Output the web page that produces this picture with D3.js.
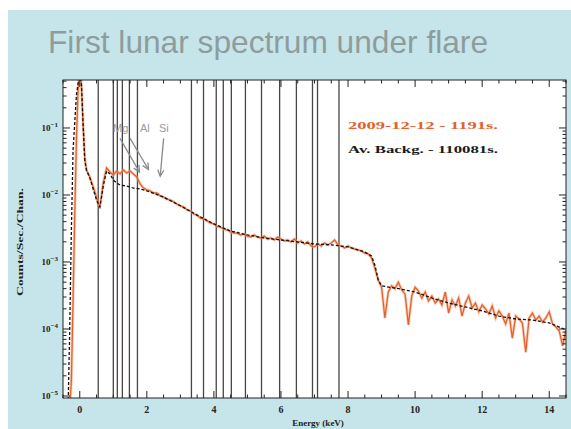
<!DOCTYPE html>
<html>
<head>
<meta charset="utf-8">
<script src="https://cdn.jsdelivr.net/npm/d3@7"></script>
<style>
  html, body { margin: 0; padding: 0; background: #fff; }
  svg { display: block; }
</style>
</head>
<body>
<div id="chart"></div>
<script>
// ------ DATA ------

// flare spectrum (orange), energy in keV / counts per sec per channel
const flareEnergy = [-0.30,-0.25,-0.20,-0.15,-0.10,-0.05,0.00,0.05,0.10,0.15,0.20,0.30,0.40,0.50,0.55,0.60,0.65,0.70,0.80,0.90,
  1.0,1.1,1.2,1.3,1.4,1.5,1.6,1.7,1.8,1.9,2.0,2.1,2.2,2.3,2.4,2.5,2.6,2.7,2.8,2.9,
  3.0,3.1,3.2,3.3,3.4,3.5,3.6,3.7,3.8,3.9,4.0,4.1,4.2,4.3,4.4,4.5,4.6,4.7,4.8,4.9,
  5.0,5.1,5.2,5.3,5.4,5.5,5.6,5.7,5.8,5.9,6.0,6.1,6.2,6.3,6.4,6.5,6.6,6.7,6.8,6.9,
  7.0,7.1,7.2,7.3,7.4,7.5,7.6,7.7,7.8,7.9,8.0,8.1,8.2,8.3,8.4,8.5,8.6,8.7,8.8,8.9,
  9.0,9.1,9.2,9.3,9.4,9.5,9.6,9.7,9.8,9.9,10.0,10.1,10.2,10.3,10.4,10.5,10.6,10.7,10.8,10.9,
  11.0,11.1,11.2,11.3,11.4,11.5,11.6,11.7,11.8,11.9,12.0,12.1,12.2,12.3,12.4,12.5,12.6,12.7,12.8,12.9,
  13.0,13.1,13.2,13.3,13.4,13.5,13.6,13.7,13.8,13.9,14.0,14.1,14.2,14.3,14.4,14.5];
const flareCounts = [6.2e-6,1.73e-5,2.71e-4,5.0e-3,6.6e-2,0.37,0.73,0.44,0.111,3.56e-2,2.36e-2,1.86e-2,1.32e-2,9.3e-3,7.3e-3,6.9e-3,9.7e-3,1.51e-2,2.53e-2,2.20e-2,
  1.99e-2,2.28e-2,2.06e-2,2.36e-2,2.13e-2,2.28e-2,2.06e-2,1.86e-2,1.46e-2,1.27e-2,1.19e-2,1.15e-2,1.07e-2,1.07e-2,9.7e-3,9.3e-3,8.7e-3,8.4e-3,7.9e-3,7.3e-3,
  6.9e-3,6.6e-3,6.0e-3,5.8e-3,5.2e-3,5.0e-3,4.5e-3,4.4e-3,4.1e-3,3.8e-3,3.7e-3,3.4e-3,3.3e-3,3.1e-3,3.0e-3,2.8e-3,2.7e-3,2.7e-3,2.53e-3,2.62e-3,
  2.44e-3,2.36e-3,2.53e-3,2.36e-3,2.28e-3,2.44e-3,2.20e-3,2.28e-3,2.13e-3,2.36e-3,2.20e-3,2.06e-3,2.13e-3,1.99e-3,2.20e-3,1.92e-3,2.06e-3,1.86e-3,1.99e-3,1.73e-3,
  1.68e-3,1.86e-3,1.73e-3,1.92e-3,1.80e-3,1.92e-3,2.13e-3,1.80e-3,1.73e-3,1.62e-3,1.73e-3,1.62e-3,1.56e-3,1.51e-3,1.46e-3,1.36e-3,1.32e-3,1.15e-3,8.1e-4,5.4e-4,
  4.2e-4,1.46e-4,3.56e-4,4.4e-4,4.0e-4,5.0e-4,3.82e-4,3.33e-4,1.15e-4,3.1e-4,4.2e-4,3.69e-4,2.9e-4,3.56e-4,2.62e-4,3.1e-4,2.44e-4,2.8e-4,2.28e-4,3.56e-4,
  1.73e-4,2.71e-4,2.20e-4,2.9e-4,1.56e-4,2.44e-4,3.1e-4,2.06e-4,2.44e-4,1.80e-4,2.28e-4,1.99e-4,1.68e-4,2.20e-4,1.46e-4,1.86e-4,1.56e-4,1.19e-4,1.73e-4,7.3e-5,
  1.56e-4,1.41e-4,1.23e-4,4.5e-5,1.46e-4,1.73e-4,1.36e-4,1.56e-4,1.27e-4,1.46e-4,1.80e-4,1.19e-4,1.07e-4,9.3e-5,5.6e-5,9.7e-5];

// average background (black dashed)
const bkgEnergy = [-0.35,-0.30,-0.25,-0.20,-0.10,0.00,0.05,0.10,0.15,0.20,0.30,0.40,0.50,0.60,0.70,0.80,0.90,
  1.0,1.1,1.2,1.4,1.6,1.8,2.0,2.5,3.0,3.5,4.0,4.5,5.0,5.5,6.0,6.5,7.0,7.5,8.0,8.5,8.7,8.8,8.9,
  9.0,9.5,10.0,10.5,11.0,11.5,12.0,12.5,13.0,13.5,14.0,14.5];
const bkgCounts = [6.2e-6,9.7e-5,3.0e-3,4.7e-2,0.31,0.69,0.44,0.111,3.3e-2,2.36e-2,1.80e-2,1.23e-2,8.4e-3,6.6e-3,1.36e-2,2.28e-2,2.06e-2,
  1.68e-2,1.51e-2,1.41e-2,1.36e-2,1.27e-2,1.23e-2,1.15e-2,9.3e-3,6.9e-3,5.0e-3,3.7e-3,2.9e-3,2.53e-3,2.28e-3,2.13e-3,1.99e-3,1.86e-3,1.80e-3,1.68e-3,1.41e-3,1.23e-3,9.0e-4,5.4e-4,
  4.4e-4,4.0e-4,3.56e-4,2.9e-4,2.44e-4,2.13e-4,1.86e-4,1.56e-4,1.41e-4,1.36e-4,1.23e-4,9.7e-5];

// fluorescence line markers (keV)
const lineEnergies = [0.55,1.00,1.12,1.27,1.48,1.72,3.33,3.69,4.07,4.28,4.52,4.94,5.42,5.96,6.46,6.94,7.09,7.73];

// tick labels
const xTickValues = [0,2,4,6,8,10,12,14];
const yTickExponents = [-1,-2,-3,-4,-5];

// annotations
const elementLabels = ['Mg','Al','Si'];
const legendLabels = ['2009-12-12 - 1191s.','Av. Backg. - 110081s.'];

// ------ LAYOUT ------

const W = 571, H = 429;
const plot = {left: 63, right: 566, top: 80, bottom: 398};

const svg = d3.select('#chart').append('svg')
  .attr('width', W).attr('height', H);

// slide background
svg.append('rect').attr('x', 8).attr('y', 10).attr('width', W - 8).attr('height', H - 10)
  .attr('fill', '#c5e5ea');

svg.append('text')
  .attr('x', 48).attr('y', 53)
  .attr('font-family', 'Liberation Sans, Arial, sans-serif')
  .attr('font-size', 32)
  .attr('fill', '#8f9c9d')
  .attr('textLength', 440).attr('lengthAdjust', 'spacingAndGlyphs')
  .text('First lunar spectrum under flare');

// plot area
svg.append('rect')
  .attr('x', plot.left).attr('y', plot.top)
  .attr('width', plot.right - plot.left).attr('height', plot.bottom - plot.top)
  .attr('fill', '#fff');

const x = d3.scaleLinear().domain([-0.5, 14.5]).range([plot.left, plot.right]);
const y = d3.scaleLog().domain([Math.pow(10, -5.03), Math.pow(10, -0.284)]).range([plot.bottom, plot.top]);

svg.append('clipPath').attr('id', 'clip')
  .append('rect')
  .attr('x', plot.left).attr('y', plot.top)
  .attr('width', plot.right - plot.left).attr('height', plot.bottom - plot.top);

const g = svg.append('g').attr('clip-path', 'url(#clip)');

// element lines
g.selectAll('.eline')
  .data(lineEnergies)
  .join('line')
    .attr('x1', d => x(d)).attr('x2', d => x(d))
    .attr('y1', plot.top).attr('y2', plot.bottom)
    .attr('stroke', '#4a4444')
    .attr('stroke-width', 1.3);

// spectra
const flare = flareEnergy.map((e, i) => [e, flareCounts[i]]);
const bkg = bkgEnergy.map((e, i) => [e, bkgCounts[i]]);
const line = d3.line().x(d => x(d[0])).y(d => y(d[1]));

g.append('path').datum(flare)
  .attr('fill', 'none')
  .attr('stroke', '#f0a27c').attr('stroke-width', 3).attr('opacity', 0.5)
  .attr('d', line);
g.append('path').datum(flare)
  .attr('fill', 'none')
  .attr('stroke', '#e4622a').attr('stroke-width', 1.3)
  .attr('d', line);
g.append('path').datum(bkg)
  .attr('fill', 'none')
  .attr('stroke', '#111').attr('stroke-width', 1.3)
  .attr('stroke-dasharray', '3,2')
  .attr('d', line);

// ------ AXES (IDL-style, ticks inward on all sides) ------

const axes = svg.append('g').attr('stroke', '#222').attr('stroke-width', 1);

const xMinor = d3.range(-0.5, 14.51, 0.5);
xMinor.forEach(e => {
  const len = (e % 2 === 0) ? 7 : 3.5;
  axes.append('line').attr('x1', x(e)).attr('x2', x(e)).attr('y1', plot.bottom).attr('y2', plot.bottom - len);
  axes.append('line').attr('x1', x(e)).attr('x2', x(e)).attr('y1', plot.top).attr('y2', plot.top + len);
});

const yTicks = [];
for (let k = -6; k <= 0; k++) {
  for (let m = 1; m <= 9; m++) {
    const v = m * Math.pow(10, k);
    if (v >= y.domain()[0] && v <= y.domain()[1]) yTicks.push({v: v, major: m === 1});
  }
}
yTicks.forEach(t => {
  const len = t.major ? 7 : 3.5;
  axes.append('line').attr('x1', plot.left).attr('x2', plot.left + len).attr('y1', y(t.v)).attr('y2', y(t.v));
  axes.append('line').attr('x1', plot.right).attr('x2', plot.right - len).attr('y1', y(t.v)).attr('y2', y(t.v));
});

svg.append('rect')
  .attr('x', plot.left).attr('y', plot.top)
  .attr('width', plot.right - plot.left).attr('height', plot.bottom - plot.top)
  .attr('fill', 'none').attr('stroke', '#222').attr('stroke-width', 1);

const labelFont = 'Liberation Serif, DejaVu Serif, serif';

svg.selectAll('.xlab')
  .data(xTickValues)
  .join('text')
    .attr('x', d => x(d)).attr('y', 413)
    .attr('text-anchor', 'middle')
    .attr('font-family', labelFont).attr('font-weight', 'bold')
    .attr('font-size', 10).attr('fill', '#222')
    .text(d => d);

const yl = svg.selectAll('.ylab')
  .data(yTickExponents)
  .join('text')
    .attr('x', 58).attr('y', d => y(Math.pow(10, d)) + 3)
    .attr('text-anchor', 'end')
    .attr('font-family', labelFont).attr('font-weight', 'bold')
    .attr('font-size', 9).attr('fill', '#222');
yl.append('tspan').text('10');
yl.append('tspan').attr('dy', -4).attr('font-size', 7).text(d => '\u2212' + (-d));

svg.append('text')
  .attr('x', 318).attr('y', 426)
  .attr('text-anchor', 'middle')
  .attr('font-family', labelFont).attr('font-weight', 'bold')
  .attr('font-size', 9).attr('fill', '#222')
  .text('Energy (keV)');

svg.append('text')
  .attr('transform', 'translate(23,242) rotate(-90)')
  .attr('text-anchor', 'middle')
  .attr('font-family', labelFont).attr('font-weight', 'bold')
  .attr('font-size', 8).attr('fill', '#222')
  .attr('textLength', 108).attr('lengthAdjust', 'spacingAndGlyphs')
  .text('Counts/Sec./Chan.');

// ------ ANNOTATIONS ------

svg.selectAll('.leg')
  .data(legendLabels)
  .join('text')
    .attr('x', 348).attr('y', (d, i) => 129 + i * 24)
    .attr('font-family', labelFont).attr('font-weight', 'bold')
    .attr('font-size', 10)
    .attr('fill', (d, i) => i === 0 ? '#e4622a' : '#1a1a1a')
    .attr('textLength', 150).attr('lengthAdjust', 'spacingAndGlyphs')
    .text(d => d);

const elX = [113, 140, 159];
svg.selectAll('.el')
  .data(elementLabels)
  .join('text')
    .attr('x', (d, i) => elX[i]).attr('y', 132)
    .attr('font-family', 'Liberation Sans, Arial, sans-serif')
    .attr('font-size', 11).attr('fill', '#9a9a9a')
    .text(d => d);

// arrows from labels down to the spectrum (energy, counts at head)
const arrowTails = [[1.2, 0.07], [1.5, 0.07], [2.5, 0.07]];
const arrowHeads = [[1.78, 0.022], [2.05, 0.024], [2.4, 0.019]];
const ag = svg.append('g').attr('stroke', '#8a8a8a').attr('stroke-width', 1.3).attr('fill', 'none');
arrowTails.forEach((t, i) => {
  const x0 = x(t[0]), y0 = y(t[1]), x1 = x(arrowHeads[i][0]), y1 = y(arrowHeads[i][1]);
  ag.append('line').attr('x1', x0).attr('y1', y0).attr('x2', x1).attr('y2', y1);
  const a = Math.atan2(y1 - y0, x1 - x0);
  const L = 7;
  ag.append('path').attr('d', `M${x1 - L * Math.cos(a - 0.45)},${y1 - L * Math.sin(a - 0.45)} L${x1},${y1} L${x1 - L * Math.cos(a + 0.45)},${y1 - L * Math.sin(a + 0.45)}`);
});
</script>
</body>
</html>
